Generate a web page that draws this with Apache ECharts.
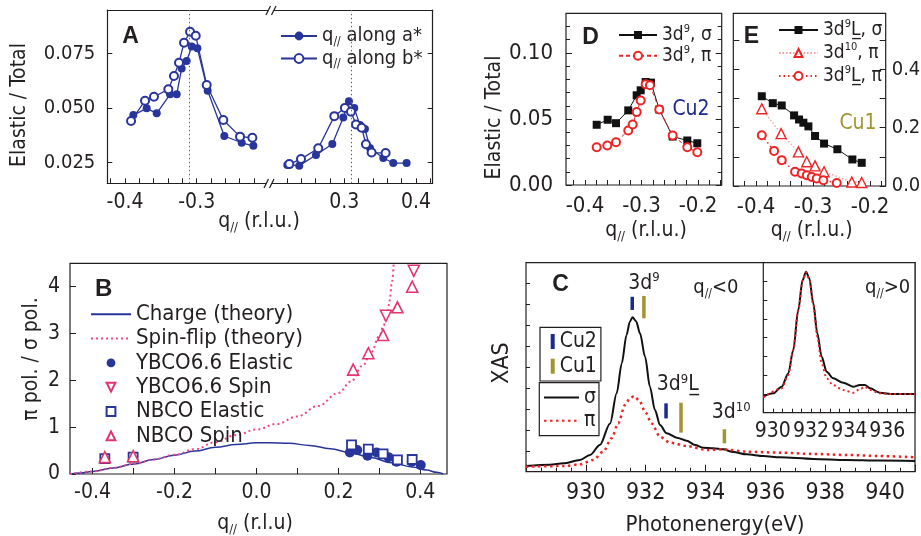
<!DOCTYPE html>
<html><head><meta charset="utf-8">
<script src="https://cdn.jsdelivr.net/npm/echarts@6/dist/echarts.min.js"></script>
<style>html,body{margin:0;padding:0;background:#fff}#c{width:921px;height:536px}</style>
</head><body><div id="c"></div>
<script>
// ---------------- DATA ----------------
// Panel A
const aTickLabelsLeft=[-0.4,-0.3], aTickLabelsRight=[0.3,0.4];
const aTicksLeft=[-0.42,-0.40,-0.38,-0.36,-0.34,-0.32,-0.30,-0.28,-0.26,-0.24,-0.22];
const aTicksRight=[0.22,0.24,0.26,0.28,0.30,0.32,0.34,0.36,0.38,0.40,0.42];
const aYTicks=[0.025,0.050,0.075];
const aPeakQ=[-0.31,0.31];
const aFilledLeft=[[-0.3884,0.0467],[-0.3698,0.0498],[-0.3558,0.0475],[-0.3372,0.0562],[-0.3279,0.0562],[-0.3210,0.0681],[-0.3140,0.0715],[-0.3070,0.0781],[-0.2991,0.0773],[-0.2847,0.0579],[-0.2615,0.0371],[-0.2373,0.0340],[-0.2210,0.0326]];
const aOpenLeft=[[-0.3916,0.0440],[-0.3721,0.0533],[-0.3596,0.0551],[-0.3396,0.0585],[-0.3317,0.0646],[-0.3247,0.0707],[-0.3177,0.0799],[-0.3093,0.0849],[-0.3014,0.0831],[-0.2861,0.0605],[-0.2629,0.0444],[-0.2396,0.0368],[-0.2224,0.0363]];
const aFilledRight=[[0.2205,0.0238],[0.2372,0.0235],[0.2605,0.0284],[0.2833,0.0334],[0.2986,0.0456],[0.3065,0.0530],[0.3139,0.0499],[0.3219,0.0421],[0.3288,0.0403],[0.3358,0.0316],[0.3544,0.0270],[0.3683,0.0247],[0.3869,0.0247]];
const aOpenRight=[[0.2233,0.0242],[0.2396,0.0265],[0.2637,0.0315],[0.2861,0.0462],[0.3009,0.0500],[0.3093,0.0482],[0.3163,0.0424],[0.3242,0.0409],[0.3302,0.0333],[0.3381,0.0295],[0.3576,0.0293]];
// Panel B
const bXTicks=[-0.4,-0.3,-0.2,-0.1,0,0.1,0.2,0.3,0.4];
const bXLabels=[-0.4,-0.2,0,0.2,0.4];
const bChargeTheory=[[-0.455,0],[-0.43,0.02],[-0.40,0.055],[-0.35,0.13],[-0.30,0.215],[-0.25,0.31],[-0.20,0.40],[-0.15,0.49],[-0.10,0.57],[-0.05,0.63],[0,0.665],[0.03,0.67],[0.08,0.655],[0.13,0.61],[0.18,0.54],[0.23,0.45],[0.28,0.35],[0.33,0.24],[0.38,0.15],[0.415,0.085],[0.44,0.035],[0.456,0]];
const bSpinTheory=[[-0.455,0],[-0.40,0.055],[-0.35,0.13],[-0.30,0.215],[-0.25,0.31],[-0.20,0.41],[-0.15,0.53],[-0.10,0.68],[-0.05,0.83],[0,0.95],[0.05,1.07],[0.10,1.23],[0.15,1.45],[0.20,1.73],[0.23,1.97],[0.26,2.32],[0.28,2.6],[0.30,2.95],[0.31,3.17],[0.32,3.45],[0.325,3.7],[0.33,4.05],[0.335,4.5]];
const bYbcoElastic=[[0.228,0.46],[0.246,0.51],[0.271,0.39],[0.293,0.46],[0.322,0.36],[0.342,0.26],[0.379,0.26],[0.401,0.19]];
const bYbcoSpin=[[0.316,3.38],[0.384,4.34]];
const bNbcoElastic=[[-0.370,0.33],[-0.301,0.36],[0.232,0.62],[0.273,0.53],[0.309,0.43],[0.344,0.30],[0.380,0.31]];
const bNbcoSpin=[[-0.370,0.36],[-0.301,0.38],[0.236,2.23],[0.273,2.58],[0.309,2.97],[0.344,3.56],[0.380,4.0]];
// Panel D
const dXTicks=[-0.42,-0.40,-0.38,-0.36,-0.34,-0.32,-0.30,-0.28,-0.26,-0.24,-0.22,-0.20,-0.18,-0.16];
const dXLabels=[-0.4,-0.3,-0.2];
const dSigma=[[-0.3793,0.0456],[-0.3598,0.0494],[-0.3451,0.0468],[-0.3234,0.0565],[-0.3085,0.0679],[-0.3014,0.0717],[-0.2926,0.0780],[-0.2832,0.0775],[-0.2685,0.0572],[-0.2448,0.0367],[-0.2189,0.0337],[-0.2012,0.0316]];
const dPi=[[-0.3793,0.0286],[-0.3605,0.0299],[-0.3451,0.0324],[-0.3234,0.0413],[-0.3156,0.0458],[-0.3085,0.0552],[-0.3014,0.0640],[-0.2926,0.0762],[-0.2850,0.0755],[-0.2685,0.0572],[-0.2448,0.0375],[-0.2189,0.0286],[-0.2012,0.0248]];
// Panel E
const eXTicks=[-0.44,-0.42,-0.40,-0.38,-0.36,-0.34,-0.32,-0.30,-0.28,-0.26,-0.24,-0.22,-0.20,-0.18];
const eXLabels=[-0.4,-0.3,-0.2];
const e9LSigma=[[-0.39,0.3077],[-0.3707,0.284],[-0.355,0.276],[-0.3333,0.242],[-0.3246,0.228],[-0.317,0.217],[-0.3082,0.2044],[-0.2965,0.1715],[-0.2807,0.1454],[-0.2573,0.126],[-0.231,0.091],[-0.2146,0.0795]];
const e10Pi=[[-0.39,0.2646],[-0.3561,0.1795],[-0.3257,0.117],[-0.311,0.083],[-0.2965,0.069],[-0.2807,0.049],[-0.232,0.0136],[-0.2146,0.012]];
const e9LPi=[[-0.39,0.1738],[-0.3684,0.1203],[-0.355,0.0886],[-0.3316,0.049],[-0.3199,0.043],[-0.311,0.037],[-0.3023,0.031],[-0.2935,0.026],[-0.2819,0.020],[-0.2584,0.010]];
// Panel C
const cSigma=[[928.0,0.027],[928.8,0.033],[929.25,0.040],[929.8,0.056],[930.14,0.080],[930.47,0.128],[930.81,0.231],[931.03,0.375],[931.2,0.518],[931.36,0.654],[931.47,0.718],[931.56,0.739],[931.68,0.72],[931.81,0.662],[931.98,0.55],[932.14,0.407],[932.31,0.295],[932.48,0.223],[932.7,0.184],[933.04,0.163],[933.37,0.148],[933.65,0.128],[933.92,0.115],[934.26,0.112],[934.59,0.107],[934.93,0.094],[935.37,0.083],[935.93,0.075],[936.49,0.069],[937.6,0.061],[938.7,0.056],[939.83,0.053],[941.0,0.051]];
const cPi=[[928.0,0.024],[929.25,0.027],[929.8,0.035],[930.25,0.056],[930.58,0.096],[930.86,0.16],[931.08,0.231],[931.31,0.319],[931.47,0.351],[931.61,0.362],[931.79,0.34],[931.98,0.287],[932.2,0.231],[932.48,0.167],[932.81,0.139],[933.37,0.123],[934.04,0.104],[934.59,0.107],[935.37,0.096],[936.49,0.091],[937.6,0.085],[938.7,0.08],[939.83,0.075],[941.0,0.069]];
const cu2Bars=[[931.55,0.774,0.837],[932.68,0.255,0.327]];
const cu1Bars=[[931.94,0.734,0.841],[933.18,0.187,0.330],[934.63,0.136,0.203]];
// Inset
const iSigma=[[929.5,0.107],[930.02,0.129],[930.46,0.173],[930.81,0.262],[931.07,0.418],[931.33,0.684],[931.56,0.884],[931.74,0.94],[931.91,0.896],[932.12,0.729],[932.33,0.529],[932.56,0.373],[932.82,0.273],[933.16,0.229],[933.69,0.2],[934.21,0.173],[934.56,0.185],[934.82,0.185],[935.09,0.163],[935.61,0.133],[936.31,0.124],[937.45,0.124]];
const iPi=[[929.5,0.102],[930.46,0.162],[930.81,0.251],[931.07,0.418],[931.33,0.684],[931.56,0.88],[931.74,0.936],[931.91,0.89],[932.12,0.718],[932.33,0.507],[932.56,0.329],[932.82,0.229],[933.16,0.184],[933.69,0.151],[934.21,0.133],[934.56,0.156],[934.82,0.173],[935.09,0.151],[935.61,0.129],[936.31,0.124],[937.45,0.124]];

// ---------------- STYLE ----------------
function hasFont(name){
  const c=document.createElement('canvas').getContext('2d');
  const s='abcdefghijklmnopqrstuvwxyzABCDEFGH0123456789';
  c.font='72px monospace'; const w0=c.measureText(s).width;
  c.font='72px serif'; const w1=c.measureText(s).width;
  c.font='72px "'+name+'", monospace'; const a=c.measureText(s).width;
  c.font='72px "'+name+'", serif'; const b=c.measureText(s).width;
  return a!==w0 || b!==w1;
}
const NARROW=['Liberation Sans Narrow','DejaVu Sans Condensed','Roboto Condensed'].find(hasFont);
const FF = NARROW || 'Liberation Sans';
const S = n => NARROW ? n : Math.round(n*0.84);
const TXT='#231f20', AX='#231f20', BLUE='#28359a', PINK='#e3356b', PINKL='#ec4a86', RED='#ee2424', REDL='#f59a9a', CU2='#1b2a8f', CU1='#a39432';

function R(fs, lh){
  fs=S(fs); lh = lh || Math.round(fs*1.15); const sf=Math.round(fs*0.6);
  return {
    n:{fontSize:fs, fontFamily:FF, color:TXT, fill:TXT, lineHeight:lh},
    sup:{fontSize:sf, fontFamily:FF, color:TXT, fill:TXT, verticalAlign:'top', lineHeight:sf},
    sub:{fontSize:sf, fontFamily:FF, color:TXT, fill:TXT, verticalAlign:'bottom', lineHeight:sf}
  };
}
function ax(g,min,max,o){
  o=o||{};
  const a={type:'value', gridIndex:g, min:min, max:max,
    axisLine:{show:!!o.line, onZero:false, lineStyle:{color:AX,width:1.2}},
    axisTick:{show:o.ticks!==false, inside:true, length:o.tl||5, lineStyle:{color:AX,width:1}},
    axisLabel:{show:!!o.labels, color:TXT, fontFamily:FF, fontSize:S(o.fs||21), margin:o.m||10, showMaxLabel:!o.noMax},
    splitLine:{show:false}};
  if(o.pos) a.position=o.pos;
  if(o.fmt) a.axisLabel.formatter=o.fmt;
  if(o.interval!=null) a.interval=o.interval;
  if(o.tickVals) a.axisTick.customValues=o.tickVals;
  if(o.labelVals) a.axisLabel.customValues=o.labelVals;
  if(o.minor) a.minorTick={show:true, splitNumber:o.minor, length:o.ml||3, lineStyle:{color:AX,width:1}};
  if(o.noMin) a.axisLabel.showMinLabel=false;
  return a;
}
const f1=v=>v.toFixed(1), f2=v=>v.toFixed(2), f3=v=>v.toFixed(3);
const box={show:true, borderColor:AX, borderWidth:1.2, backgroundColor:'transparent', containLabel:false, outerBoundsMode:'none'};
const nob={show:false, containLabel:false, outerBoundsMode:'none'};

function T(x,y,text,fs,o){
  o=o||{};
  const st={text:text, fontSize:o.rich?undefined:fs, fontFamily:o.ff||FF, fontWeight:o.bold?'bold':'normal', fill:o.color||TXT, align:o.align||'center', verticalAlign:'middle'};
  if(o.rich) st.rich=o.rich;
  return {type:'text', x:x, y:y, rotation:o.rot||0, silent:true, z:50, style:st};
}
function barItem(color){
  return function(p,api){
    const a=api.coord([api.value(0),api.value(1)]), b=api.coord([api.value(0),api.value(2)]);
    return {type:'line', shape:{x1:a[0],y1:a[1],x2:b[0],y2:b[1]}, style:{stroke:color, lineWidth:3.5}};
  };
}

const legendNames={
  qa:'{n|q}{sub|//}{n| along a*}', qb:'{n|q}{sub|//}{n| along b*}',
  d9s:'{n|3d}{sup|9}{n|, σ}', d9p:'{n|3d}{sup|9}{n|, π}',
  e9Ls:'{n|3d}{sup|9}{n|L\u0332, σ}', e10p:'{n|3d}{sup|10}{n|, π}', e9Lp:'{n|3d}{sup|9}{n|L\u0332, π}'
};
const lf=n=>legendNames[n]||n;
const noSym={opacity:0}, noLine={opacity:0};
// marker-only series drawn as line series with invisible connecting line (legend shows marker only)
function pts(name,data,symbol,size,itemStyle,extra){
  return Object.assign({name:name, type:'line', xAxisIndex:4, yAxisIndex:2, data:data, symbol:symbol, symbolSize:size,
    showSymbol:true, itemStyle:itemStyle, lineStyle:{opacity:0, width:0}}, extra||{});
}

const option={
  animation:false, backgroundColor:'#fff',
  grid:[
    Object.assign({left:107.3, top:10, width:160.7, height:173.3}, nob),
    Object.assign({left:268, top:10, width:164.7, height:173.3}, nob),
    Object.assign({left:70, top:263.3, width:377, height:210.7}, box),
    Object.assign({left:566, top:13.3, width:155.7, height:171.7}, box),
    Object.assign({left:733.3, top:13.3, width:152.4, height:172.7}, box),
    Object.assign({left:526, top:262.7, width:389, height:209}, box),
    Object.assign({}, box, {left:763.3, top:262.7, width:151.7, height:150, backgroundColor:'#fff'})
  ],
  xAxis:[
    ax(0,-0.4247,-0.2006,{pos:'bottom',line:true,labels:true,tickVals:aTicksLeft,labelVals:aTickLabelsLeft,fmt:f1,fs:21,m:9}),
    ax(0,-0.4247,-0.2006,{pos:'top',line:true,ticks:false}),
    ax(1,0.1936,0.4233,{pos:'bottom',line:true,labels:true,tickVals:aTicksRight,labelVals:aTickLabelsRight,fmt:f1,fs:21,m:9}),
    ax(1,0.1936,0.4233,{pos:'top',line:true,ticks:false}),
    ax(2,-0.455,0.465,{labels:true,tickVals:bXTicks,labelVals:bXLabels,fmt:f1,fs:21,m:8,tl:6}),
    ax(3,-0.4336,-0.158,{labels:true,tickVals:dXTicks,labelVals:dXLabels,fmt:f1,fs:22,m:10}),
    ax(4,-0.44,-0.1725,{labels:true,tickVals:eXTicks,labelVals:eXLabels,fmt:f1,fs:22,m:10}),
    ax(5,928,941,{labels:true,interval:2,minor:4,tl:7,ml:4,fs:23,m:10,noMin:true,noMax:true}),
    ax(6,929.5,937.45,{labels:true,interval:0.5,tl:4,fs:21,m:8,noMax:true,fmt:v=>(Math.abs(v%2)<1e-6?String(v):'')})
  ],
  yAxis:[
    ax(0,0.0154,0.0949,{pos:'left',line:true,labels:true,tickVals:aYTicks,labelVals:aYTicks,fmt:f3,fs:20,m:12}),
    ax(1,0.0154,0.0949,{pos:'right',line:true,tickVals:aYTicks}),
    ax(2,0,4.5,{labels:true,interval:1,fs:21,m:10,tl:6,noMax:true}),
    ax(3,0,0.13,{labels:true,interval:0.05,minor:5,tl:6,ml:4,fmt:f2,fs:22,m:13,noMax:true}),
    ax(3,0,0.13,{pos:'right',interval:0.05,minor:5,tl:6,ml:4}),
    ax(4,0,0.592,{pos:'left',interval:0.1,tl:6}),
    ax(4,0,0.592,{pos:'right',interval:0.1,tl:6,labels:true,fs:20,m:6,noMax:true,fmt:v=>(Math.round(v*10)%2===0?v.toFixed(1):'')}),
    ax(5,0,1,{interval:0.1,tl:4}),
    ax(6,0,1,{interval:0.125,tl:4})
  ],
  legend:[
    {left:280, top:26, orient:'vertical', padding:0, itemWidth:36, itemHeight:11, itemGap:1, selectedMode:false,
     data:['qa','qb'], formatter:lf, textStyle:{rich:R(20)}},
    {left:90, top:303.3, orient:'vertical', padding:0, itemWidth:40, itemHeight:11, itemGap:2.3, selectedMode:false,
     data:[{name:'Charge (theory)',itemStyle:noSym},{name:'Spin-flip (theory)',itemStyle:noSym},
           {name:'YBCO6.6 Elastic',lineStyle:noLine},{name:'YBCO6.6 Spin',lineStyle:noLine},
           {name:'NBCO Elastic',lineStyle:noLine},{name:'NBCO Spin',lineStyle:noLine}],
     textStyle:{fontSize:S(22), fontFamily:FF, color:TXT, lineHeight:20}},
    {left:618, top:24, orient:'vertical', padding:0, itemWidth:38, itemHeight:10, itemGap:0.3, selectedMode:false,
     data:['d9s','d9p'], formatter:lf, textStyle:{rich:R(19,22)}},
    {left:778, top:19, orient:'vertical', padding:0, itemWidth:39, itemHeight:10, itemGap:2.5, selectedMode:false,
     data:['e9Ls','e10p','e9Lp'], formatter:lf, textStyle:{rich:R(19,22)}},
    {left:540, top:327.3, orient:'vertical', padding:[3.7,4,4.3,10.7], itemWidth:4, itemHeight:15, itemGap:3.7, selectedMode:false,
     borderColor:AX, borderWidth:1.2, data:[{name:'Cu2',icon:'rect'},{name:'Cu1',icon:'rect'}],
     textStyle:{fontSize:S(21), fontFamily:FF, color:TXT, lineHeight:18}},
    {left:539.3, top:382.7, orient:'vertical', padding:[4.3,3,4.3,3.7], itemWidth:35, itemHeight:12, itemGap:2.3, selectedMode:false,
     borderColor:AX, borderWidth:1.2, data:[{name:'σ',itemStyle:noSym},{name:'π',itemStyle:noSym}],
     textStyle:{fontSize:S(21), fontFamily:FF, color:TXT, lineHeight:16}}
  ],
  series:[
    // A
    {name:'qa', type:'line', xAxisIndex:0, yAxisIndex:0, data:aFilledLeft, symbol:'circle', symbolSize:8,
     itemStyle:{color:BLUE}, lineStyle:{color:BLUE,width:1.3},
     markLine:{silent:true, symbol:'none', label:{show:false}, lineStyle:{color:'#666',type:[1.5,2.5],width:1}, data:[{xAxis:aPeakQ[0]}]}},
    {name:'qb', type:'line', xAxisIndex:0, yAxisIndex:0, data:aOpenLeft, symbol:'emptyCircle', symbolSize:8,
     itemStyle:{color:BLUE,borderWidth:1.3}, lineStyle:{color:BLUE,width:1.3}},
    {name:'qa', type:'line', xAxisIndex:2, yAxisIndex:1, data:aFilledRight, symbol:'circle', symbolSize:8,
     itemStyle:{color:BLUE}, lineStyle:{color:BLUE,width:1.3},
     markLine:{silent:true, symbol:'none', label:{show:false}, lineStyle:{color:'#666',type:[1.5,2.5],width:1}, data:[{xAxis:aPeakQ[1]}]}},
    {name:'qb', type:'line', xAxisIndex:2, yAxisIndex:1, data:aOpenRight, symbol:'emptyCircle', symbolSize:8,
     itemStyle:{color:BLUE,borderWidth:1.3}, lineStyle:{color:BLUE,width:1.3}},
    // B
    {name:'Charge (theory)', type:'line', xAxisIndex:4, yAxisIndex:2, data:bChargeTheory, symbol:'none', smooth:0.4, smoothMonotone:'x',
     itemStyle:{color:BLUE}, lineStyle:{color:BLUE,width:1.5}},
    {name:'Spin-flip (theory)', type:'line', xAxisIndex:4, yAxisIndex:2, data:bSpinTheory, symbol:'none', smooth:0.4, smoothMonotone:'x',
     itemStyle:{color:PINKL}, lineStyle:{color:PINKL,width:2,type:[2,3]}},
    pts('YBCO6.6 Elastic', bYbcoElastic, 'circle', 10, {color:BLUE}),
    pts('NBCO Elastic', bNbcoElastic, 'rect', 9, {color:'#fff',borderColor:BLUE,borderWidth:1.8}),
    pts('NBCO Spin', bNbcoSpin, 'triangle', 11, {color:'#fff',borderColor:PINK,borderWidth:1.6}),
    pts('YBCO6.6 Spin', bYbcoSpin, 'triangle', 11, {color:'#fff',borderColor:PINK,borderWidth:1.6}, {symbolRotate:180}),
    // D
    {name:'d9s', type:'line', xAxisIndex:5, yAxisIndex:3, data:dSigma, symbol:'rect', symbolSize:8,
     itemStyle:{color:'#111'}, lineStyle:{color:'#111',width:1}},
    {name:'d9p', type:'line', xAxisIndex:5, yAxisIndex:3, data:dPi, symbol:'emptyCircle', symbolSize:8,
     itemStyle:{color:RED,borderWidth:1.4}, lineStyle:{color:RED,width:1,type:[4,3]}},
    // E
    {name:'e9Ls', type:'line', xAxisIndex:6, yAxisIndex:5, data:e9LSigma, symbol:'rect', symbolSize:8,
     itemStyle:{color:'#111'}, lineStyle:{color:'#111',width:1}},
    {name:'e10p', type:'line', xAxisIndex:6, yAxisIndex:5, data:e10Pi, symbol:'triangle', symbolSize:10,
     itemStyle:{color:'#fff',borderColor:RED,borderWidth:1.4}, lineStyle:{color:REDL,width:1.2,type:[1.5,2]}},
    {name:'e9Lp', type:'line', xAxisIndex:6, yAxisIndex:5, data:e9LPi, symbol:'emptyCircle', symbolSize:8,
     itemStyle:{color:RED,borderWidth:1.4}, lineStyle:{color:RED,width:1.5,type:[1.5,3]}},
    // C
    {name:'σ', type:'line', xAxisIndex:7, yAxisIndex:7, data:cSigma, symbol:'none', smooth:0.3, smoothMonotone:'x',
     itemStyle:{color:'#111'}, lineStyle:{color:'#111',width:2}},
    {name:'π', type:'line', xAxisIndex:7, yAxisIndex:7, data:cPi, symbol:'none', smooth:0.3, smoothMonotone:'x',
     itemStyle:{color:RED}, lineStyle:{color:RED,width:2.5,type:[2.5,3.5]}},
    {name:'Cu2', type:'custom', xAxisIndex:7, yAxisIndex:7, data:cu2Bars, itemStyle:{color:CU2}, renderItem:barItem(CU2), encode:{x:0,y:[1,2]}},
    {name:'Cu1', type:'custom', xAxisIndex:7, yAxisIndex:7, data:cu1Bars, itemStyle:{color:CU1}, renderItem:barItem(CU1), encode:{x:0,y:[1,2]}},
    // Inset
    {name:'inset σ', type:'line', xAxisIndex:8, yAxisIndex:8, data:iSigma, symbol:'none', smooth:0.3, smoothMonotone:'x',
     itemStyle:{color:'#111'}, lineStyle:{color:'#111',width:2}, z:5},
    {name:'inset π', type:'line', xAxisIndex:8, yAxisIndex:8, data:iPi, symbol:'none', smooth:0.3, smoothMonotone:'x',
     itemStyle:{color:RED}, lineStyle:{color:RED,width:2,type:[2,3]}, z:6}
  ],
  graphic:[
    // axis break marks in A
    {type:'rect', shape:{x:266.5,y:180,width:5,height:7}, style:{fill:'#fff'}, z:100, silent:true},
    {type:'line', shape:{x1:264,y1:188,x2:268.5,y2:179}, style:{stroke:AX,lineWidth:1.2}, z:101, silent:true},
    {type:'line', shape:{x1:269.5,y1:188,x2:274,y2:179}, style:{stroke:AX,lineWidth:1.2}, z:101, silent:true},
    {type:'rect', shape:{x:268.5,y:6.5,width:5,height:7}, style:{fill:'#fff'}, z:100, silent:true},
    {type:'line', shape:{x1:266,y1:15,x2:270.5,y2:6}, style:{stroke:AX,lineWidth:1.2}, z:101, silent:true},
    {type:'line', shape:{x1:271.5,y1:15,x2:276,y2:6}, style:{stroke:AX,lineWidth:1.2}, z:101, silent:true},
    // panel letters
    T(130.5,37,'A',23,{bold:true,ff:'Liberation Sans'}),
    T(103.7,289,'B',24,{bold:true,ff:'Liberation Sans'}),
    T(560.5,285,'C',23,{bold:true,ff:'Liberation Sans'}),
    T(590.5,38,'D',23,{bold:true,ff:'Liberation Sans'}),
    T(751.5,36.7,'E',23,{bold:true,ff:'Liberation Sans'}),
    // axis titles
    T(20,105,'Elastic / Total',S(21),{rot:Math.PI/2}),
    T(259,222,'{n|q}{sub|//}{n| (r.l.u.)}',0,{rich:R(21)}),
    T(31.7,359,'π pol. / σ pol.',S(21),{rot:Math.PI/2}),
    T(255,524,'{n|q}{sub|//}{n| (r.l.u)}',0,{rich:R(21)}),
    T(495,117.5,'Elastic / Total',S(21),{rot:Math.PI/2}),
    T(646,231,'{n|q}{sub|//}{n| (r.l.u.)}',0,{rich:R(21)}),
    T(811.7,231,'{n|q}{sub|//}{n| (r.l.u.)}',0,{rich:R(21)}),
    T(715,525,'Photonenergy(eV)',S(22)),
    T(501.7,363,'XAS',S(23),{rot:Math.PI/2}),
    // annotations
    T(691,110,'Cu2',S(21),{color:CU2}),
    T(858,123.3,'Cu1',S(21),{color:CU1}),
    T(628.3,283.3,'{n|3d}{sup|9}',0,{rich:R(21),align:'left'}),
    T(693.3,288,'{n|q}{sub|//}{n|<0}',0,{rich:R(20),align:'left'}),
    T(656.7,385,'{n|3d}{sup|9}{n|L\u0332}',0,{rich:R(21),align:'left'}),
    T(711.7,413,'{n|3d}{sup|10}',0,{rich:R(21),align:'left'}),
    T(865,288,'{n|q}{sub|//}{n|>0}',0,{rich:R(20),align:'left'})
  ]
};
const chart=echarts.init(document.getElementById('c'),null,{renderer:'canvas'});
chart.setOption(option);
</script></body></html>
